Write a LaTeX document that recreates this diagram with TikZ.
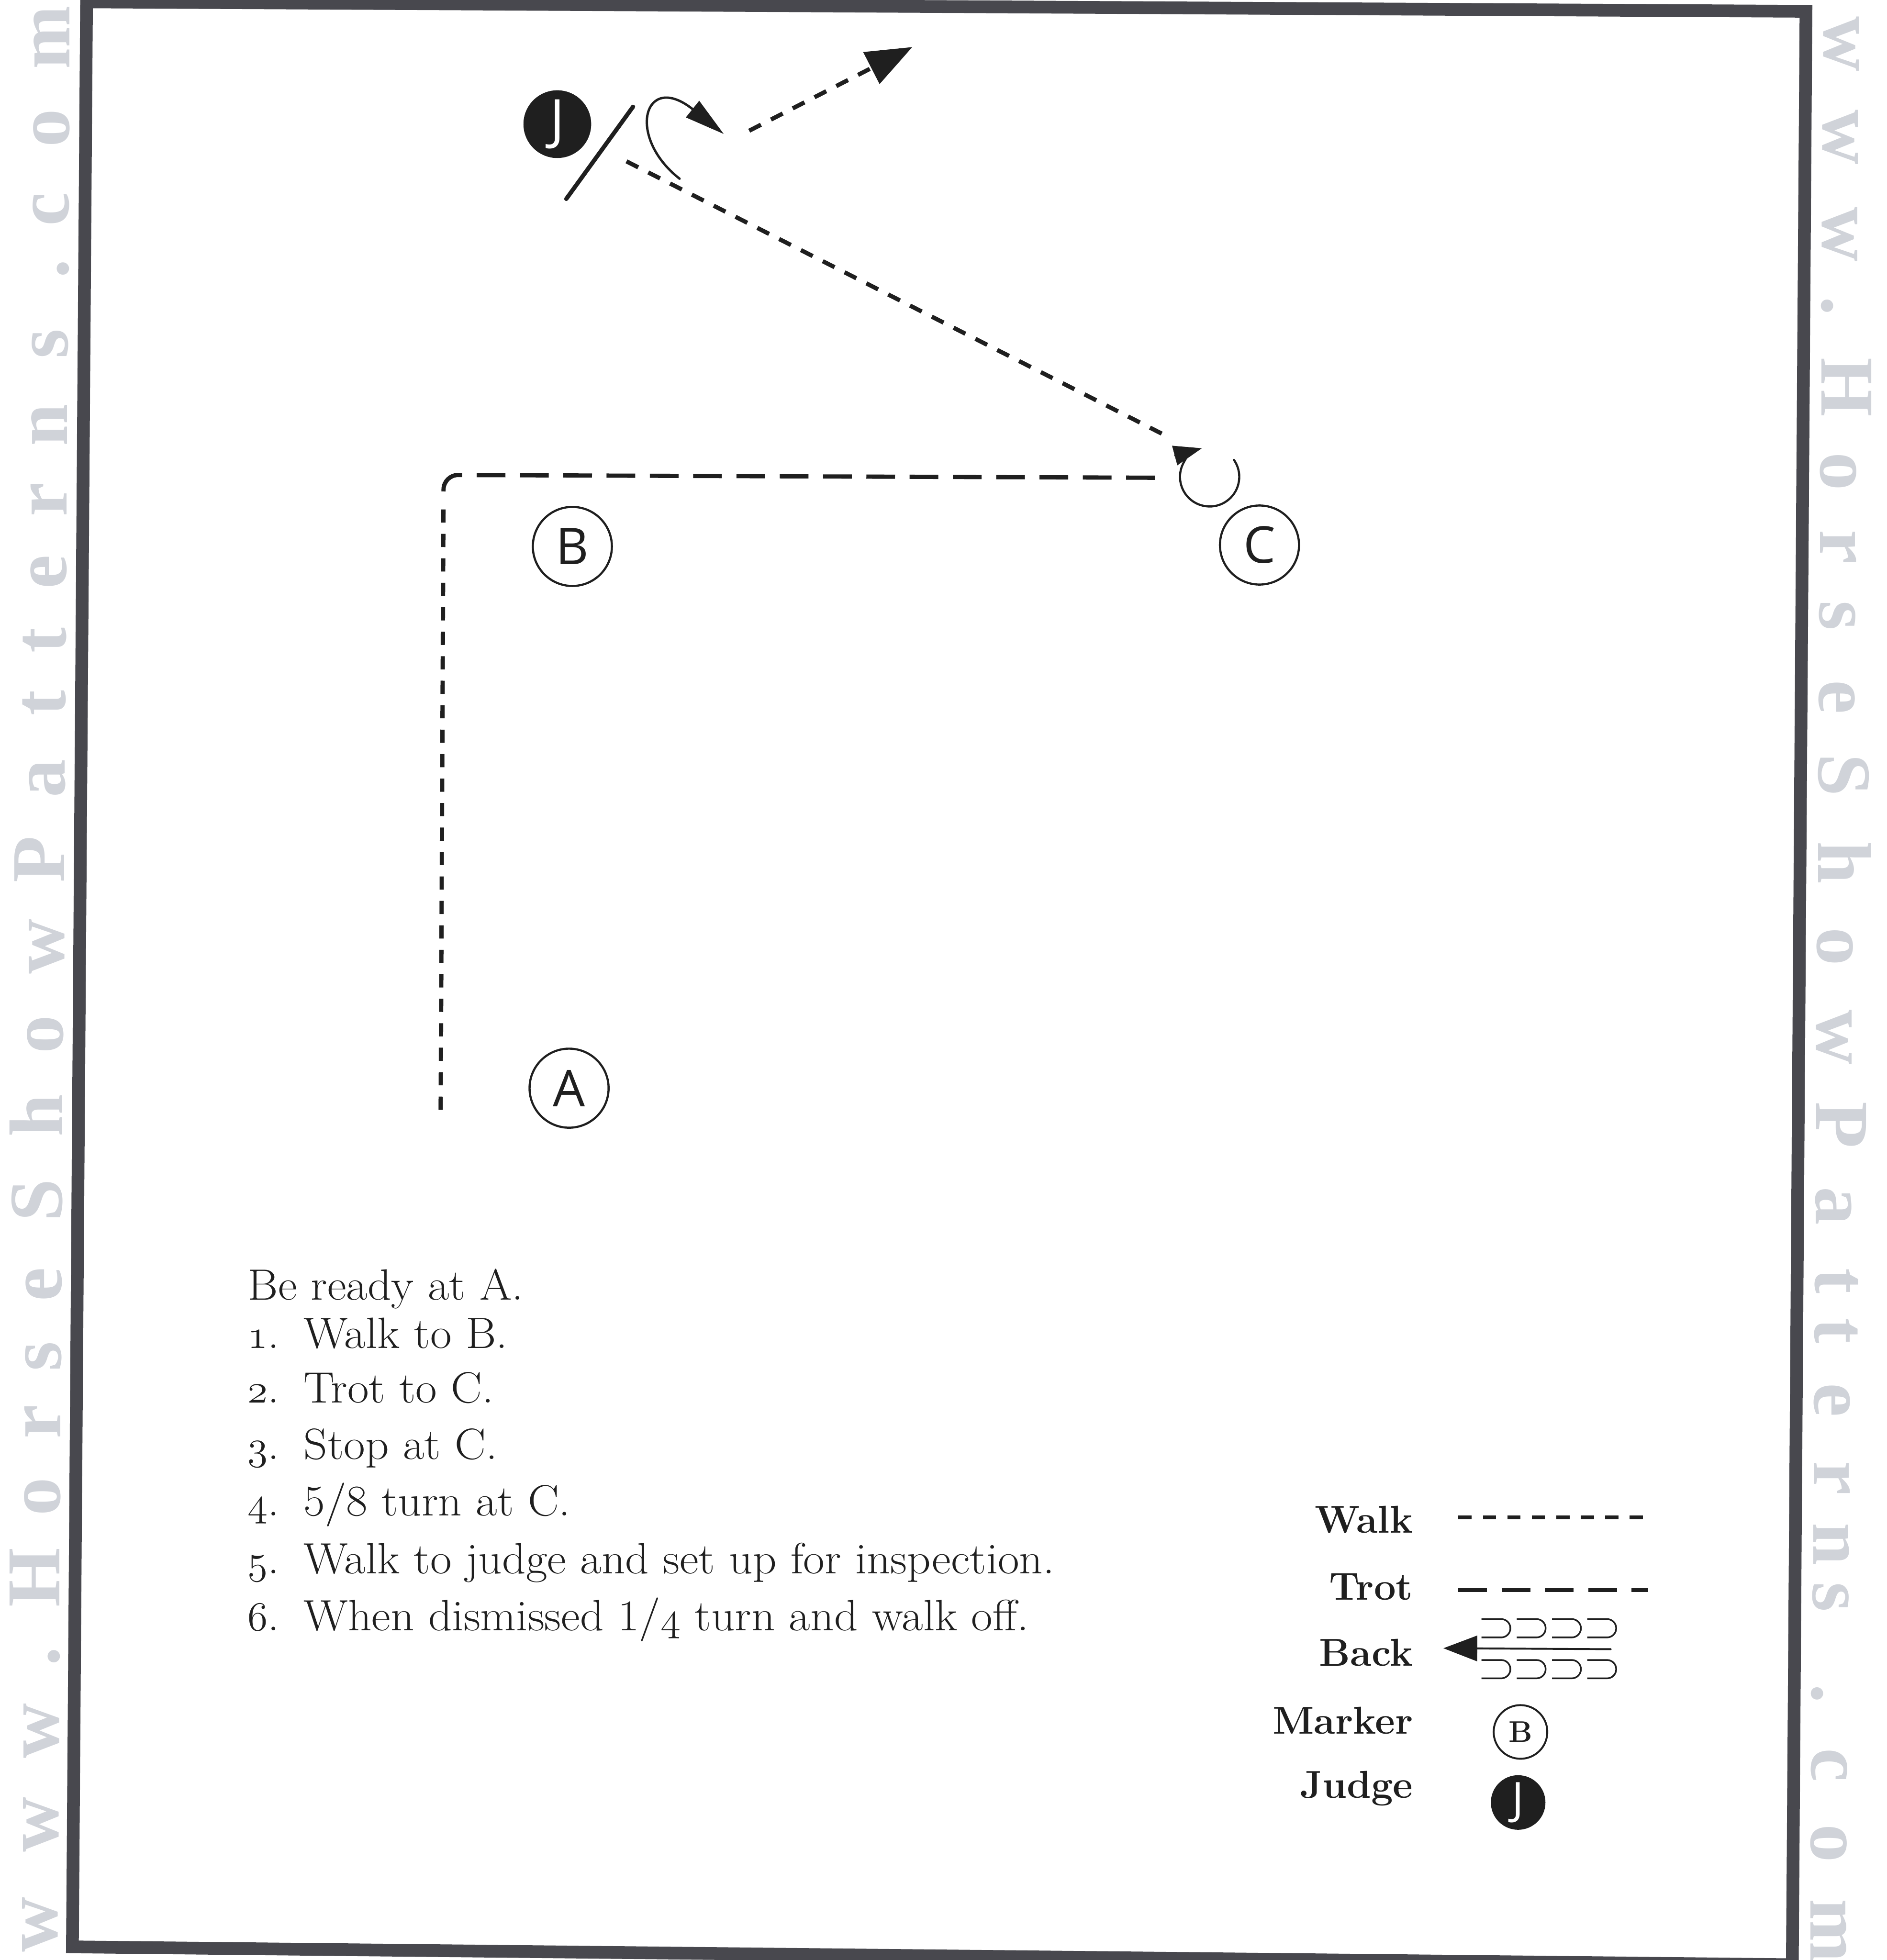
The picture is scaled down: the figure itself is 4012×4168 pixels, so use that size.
\documentclass[tikz,border=0pt]{standalone}
\usepackage{fontspec}
\usetikzlibrary{arrows.meta}
\newfontfamily\markfont{Open Sans}
\newfontfamily\wmfont{Liberation Serif}
\newfontfamily\instrfont{Latin Modern Roman}[FakeStretch=1.06]
\newcommand\osn[1]{{\usefont{OML}{lmm}{m}{it}#1}}
\definecolor{inkc}{HTML}{1F1F1F}
\definecolor{framec}{HTML}{48484E}
\definecolor{wmc}{HTML}{D0D3D9}
\begin{document}
\begin{tikzpicture}[x=0.01cm, y=-0.01cm,
  ink/.style={draw=inkc, line cap=round},
  walkline/.style={line width=0.09cm, draw=inkc, dash pattern=on 0.28cm off 0.24cm},
  trotline/.style={line width=0.09cm, draw=inkc, dash pattern=on 0.61cm off 0.31cm},
  marker/.style={circle, draw=inkc, line width=0.045cm, minimum size=1.68cm, inner sep=0pt, text=inkc, font=\markfont\fontsize{30.7}{31}\selectfont},
  judge/.style={circle, fill=inkc, minimum size=1.44cm, inner sep=0pt, text=white, font=\markfont\fontsize{33}{33}\selectfont},
  markerlg/.style={circle, draw=inkc, line width=0.04cm, minimum size=1.14cm, inner sep=0pt, text=inkc, font=\bfseries\fontsize{18}{18}\selectfont},
  judgelg/.style={circle, fill=inkc, minimum size=1.16cm, inner sep=0pt, text=white, font=\markfont\fontsize{27}{27}\selectfont},
  instr/.style={anchor=base west, inner sep=0pt, text=inkc, font=\instrfont\fontsize{26.5}{30}\selectfont},
  legendlbl/.style={anchor=base east, inner sep=0pt, text=inkc, font=\bfseries\fontsize{23.5}{24}\selectfont},
  wmleft/.style={anchor=base, rotate=90, inner sep=0pt, text=wmc, font=\wmfont\bfseries\fontsize{46}{46}\selectfont},
  wmright/.style={anchor=base, rotate=-90, inner sep=0pt, text=wmc, font=\wmfont\bfseries\fontsize{46}{46}\selectfont},
  backloop/.style={draw=inkc, line width=0.035cm}
]
\useasboundingbox (0,0) rectangle (4012,4168);
\fill[white] (0,0) rectangle (4012,4168);

% watermark
\foreach \ch/\yy in {m/80, o/272, c/445, ./571, s/731, n/904, r/1063, e/1216, t/1362, t/1495, a/1655, P/1827, w/2013, o/2200, h/2372, S/2552, e/2731, s/2884, r/3023, o/3183, H/3355, ./3522, w/3681, w/3880, w/4093}
  {\node[wmleft] (wl\yy) at ({148-(\yy-80)/4013*26},\yy) {\ch};}
\foreach \ch/\yy in {w/93, w/292, w/498, ./651, H/824, o/1003, r/1163, s/1309, e/1482, S/1648, h/1834, o/2013, w/2206, P/2392, a/2565, t/2724, t/2830, e/2977, r/3143, n/3283, s/3396, ./3602, c/3754, o/3920, m/4106}
  {\node[wmright] (wr\yy) at ({3878-(\yy-93)/4013*28},\yy) {\ch};}

% frame
\draw[framec, line width=0.27cm, line join=miter] (184,4) -- (3840,24) -- (3811,4178) -- (154,4140) -- cycle;

% markers
\node[marker] (A) at (1210,2314) {A};
\node[marker] (B) at (1217,1162) {B};
\node[marker] (C) at (2678,1159) {C};
\node[judge] (J) at (1185,264) {J};

% path coordinates
\coordinate (wStart) at (937,2360);
\coordinate (wTop) at (943,1062);
\coordinate (tStart) at (943,1045);
\coordinate (tCorner) at (944,1010);
\coordinate (trotEnd) at (2478,1016);
\coordinate (turnC) at (2572,1014);
\coordinate (walkJ0) at (2470,922);
\coordinate (walkJ1) at (1326,340);
\coordinate (slashA) at (1346,227);
\coordinate (slashB) at (1204,423);
\coordinate (hookS) at (1445,380);
\coordinate (hookE) at (1539,285);
\coordinate (offS) at (1593,278);
\coordinate (offE) at (1940,100);

% walk A -> B
\draw[walkline] (wStart) -- (wTop);
% trot B -> C
\draw[trotline, rounded corners=0.3cm] (tStart) -- (tCorner) -- (trotEnd);
% turn at C
\draw[ink, line width=0.045cm, -{Triangle[length=0.6cm, width=0.42cm]}] ([shift={(-35:63)}]turnC) arc[start angle=-35, end angle=255, radius=63];
% walk to judge
\draw[walkline] (walkJ0) -- (walkJ1);
% judge line
\draw[ink, line width=0.09cm] (slashA) -- (slashB);
% 1/4 turn
\draw[ink, line width=0.05cm, -{Triangle[length=0.85cm, width=0.44cm]}] (hookS) .. controls (1330,290) and (1370,150) .. (hookE);
% walk off
\draw[walkline, -{Triangle[length=0.98cm, width=0.74cm]}] (offS) -- (offE);

% instructions
\node[instr] (t0) at (526,2764) {Be ready at A.};
\node[instr] (n1) at (526,2867) {\osn{1}.};
\node[instr] (s1) at (645,2867) {Walk to B.};
\node[instr] (n2) at (526,2983) {\osn{2}.};
\node[instr] (s2) at (645,2983) {Trot to C.};
\node[instr] (n3) at (526,3103) {\osn{3}.};
\node[instr] (s3) at (645,3103) {Stop at C.};
\node[instr] (n4) at (526,3223) {\osn{4}.};
\node[instr] (s4) at (645,3223) {5/8 turn at C.};
\node[instr] (n5) at (526,3346) {\osn{5}.};
\node[instr] (s5) at (645,3346) {Walk to judge and set up for inspection.};
\node[instr] (n6) at (526,3467) {\osn{6}.};
\node[instr] (s6) at (645,3467) {When dismissed 1/\osn{4} turn and walk off.};

% legend
\node[legendlbl] (lWalk) at (3005,3260) {Walk};
\node[legendlbl] (lTrot) at (3005,3402) {Trot};
\node[legendlbl] (lBack) at (3005,3543) {Back};
\node[legendlbl] (lMarker) at (3005,3687) {Marker};
\node[legendlbl] (lJudge) at (3005,3823) {Judge};

\coordinate (lgW0) at (3101,3227);
\coordinate (lgW1) at (3505,3227);
\coordinate (lgT0) at (3101,3381);
\coordinate (lgT1) at (3505,3381);
\draw[walkline, line width=0.08cm] (lgW0) -- (lgW1);
\draw[trotline, line width=0.08cm] (lgT0) -- (lgT1);

\coordinate (lgB0) at (3425,3507);
\coordinate (lgB1) at (3069,3505);
\draw[ink, line width=0.04cm, -{Triangle[length=0.72cm, width=0.54cm]}] (lgB0) -- (lgB1);
\foreach \xx in {3150,3225,3300,3375}{
  \draw[backloop] (\xx,3443) -- (\xx+42,3443) arc[start angle=-90, end angle=90, radius=19.5] -- (\xx,3482);
  \draw[backloop] (\xx,3530) -- (\xx+42,3530) arc[start angle=-90, end angle=90, radius=19.5] -- (\xx,3569);
}

\node[markerlg] (lgB) at (3233,3683) {B};
\node[judgelg] (lgJ) at (3228,3833) {J};
\end{tikzpicture}
\end{document}
